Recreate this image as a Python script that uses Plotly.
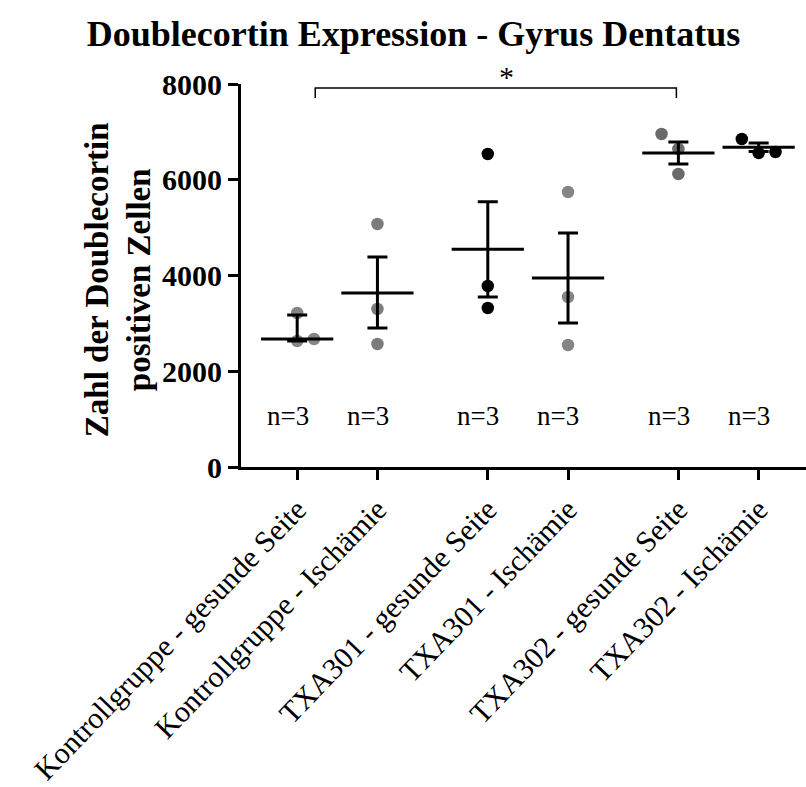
import plotly.graph_objects as go

# ---------------- data ----------------
categories = [
    "Kontrollgruppe - gesunde Seite",
    "Kontrollgruppe - Ischämie",
    "TXA301 - gesunde Seite",
    "TXA301 - Ischämie",
    "TXA302 - gesunde Seite",
    "TXA302 - Ischämie",
]
positions = [0, 1, 2.375, 3.375, 4.75, 5.75]

# individual animals (value, horizontal jitter in category units)
points_g1 = [3217, 2632, 2674]
jitter_g1 = [0, 0, 0.21]
points_g2 = [5076, 3300, 2570]
jitter_g2 = [0, 0, 0]
points_g3 = [6538, 3781, 3321]
jitter_g3 = [0, 0, 0]
points_g4 = [5745, 3551, 2549]
jitter_g4 = [0, 0, 0]
points_g5 = [6956, 6643, 6121]
jitter_g5 = [-0.21, 0, 0]
points_g6 = [6852, 6559, 6580]
jitter_g6 = [-0.21, 0, 0.21]

group_points = [points_g1, points_g2, points_g3, points_g4, points_g5, points_g6]
group_jitter = [jitter_g1, jitter_g2, jitter_g3, jitter_g4, jitter_g5, jitter_g6]
point_colors = ["#858585", "#7c7c7c", "#000000", "#858585", "#6a6a6a", "#000000"]

means = [2674, 3635, 4550, 3948, 6559, 6680]
sem_up = [501, 752, 990, 940, 230, 90]
sem_down = [42, 731, 1000, 940, 229, 90]

n_labels = ["n=3", "n=3", "n=3", "n=3", "n=3", "n=3"]
y_ticks = [0, 2000, 4000, 6000, 8000]

sig_left, sig_right = 0.225, 4.725
sig_top, sig_bottom = 7918, 7709
sig_label = "*"

SERIF = "Liberation Serif, Times New Roman, Times, serif"

fig = go.Figure()

# scatter points
for pts, jit, col, pos in zip(group_points, group_jitter, point_colors, positions):
    fig.add_trace(go.Scatter(
        x=[pos + j for j in jit], y=pts, mode="markers",
        marker=dict(size=12.5, color=col, line=dict(width=0)),
        showlegend=False, hoverinfo="y", cliponaxis=False,
    ))

# mean lines
half = 0.45
mx, my = [], []
for pos, m in zip(positions, means):
    mx += [pos - half, pos + half, None]
    my += [m, m, None]
fig.add_trace(go.Scatter(x=mx, y=my, mode="lines",
                         line=dict(color="black", width=3),
                         showlegend=False, hoverinfo="skip"))

# SEM error bars
fig.add_trace(go.Scatter(
    x=positions, y=means, mode="markers",
    marker=dict(size=1, color="rgba(0,0,0,0)"),
    error_y=dict(type="data", symmetric=False, array=sem_up, arrayminus=sem_down,
                 color="black", thickness=3, width=10),
    showlegend=False, hoverinfo="skip",
))

# significance bracket
fig.add_trace(go.Scatter(
    x=[sig_left, sig_left, sig_right, sig_right],
    y=[sig_bottom, sig_top, sig_top, sig_bottom],
    mode="lines", line=dict(color="black", width=1.5),
    showlegend=False, hoverinfo="skip", cliponaxis=False,
))
fig.add_annotation(x=(sig_left + sig_right) / 2 + 0.13, y=sig_top, yshift=11,
                   text=sig_label, showarrow=False, yanchor="middle",
                   font=dict(family=SERIF, size=30, color="black"))

# n labels
for pos, lab in zip(positions, n_labels):
    fig.add_annotation(x=pos - 0.12, y=1060, text=lab, showarrow=False,
                       xanchor="center", yanchor="middle",
                       font=dict(family=SERIF, size=27, color="black"))

# y axis title
fig.add_annotation(xref="paper", yref="paper", x=-0.218, y=0.49,
                   text="<b>Zahl der Doublecortin<br>positiven Zellen</b>",
                   textangle=-90, showarrow=False, xanchor="center", yanchor="middle",
                   font=dict(family=SERIF, size=33, color="black"))

fig.update_layout(
    width=806, height=787,
    margin=dict(l=241, r=0, t=84, b=320, autoexpand=False),
    paper_bgcolor="white", plot_bgcolor="white",
    title=dict(text="<b>Doublecortin Expression - Gyrus Dentatus</b>",
               x=0.513, xanchor="center", xref="container",
               y=1 - 33 / 787, yanchor="middle", yref="container",
               font=dict(family=SERIF, size=36, color="black")),
    xaxis=dict(range=[-0.7, 6.34], tickvals=positions, ticktext=categories,
               tickangle=-46, ticks="outside", ticklen=10, tickwidth=3,
               tickcolor="black", showline=True, linewidth=3, linecolor="black",
               showgrid=False, zeroline=False, automargin=False,
               tickfont=dict(family=SERIF, size=30, color="black")),
    yaxis=dict(range=[0, 8000], tickvals=y_ticks, ticks="outside", ticklen=10,
               tickwidth=3, tickcolor="black", showline=True, linewidth=3,
               linecolor="black", showgrid=False, zeroline=False, automargin=False,
               tickfont=dict(family=SERIF, size=30, color="black", weight="bold")),
)

fig.write_html("out.html")
